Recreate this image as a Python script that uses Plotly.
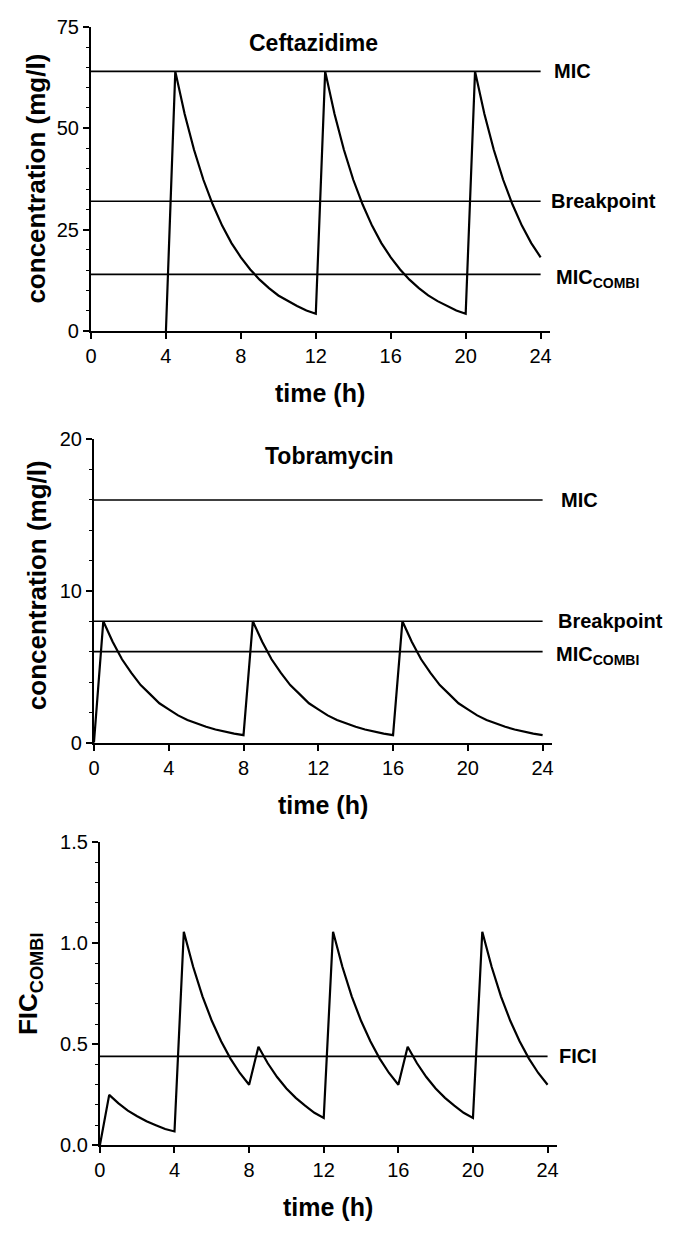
import plotly.graph_objects as go

W, H = 676, 1234
FONT = "Liberation Sans, Arial, Helvetica, sans-serif"

# ---------------- data ----------------
hours = [0, 0.5, 1, 1.5, 2, 2.5, 3, 3.5, 4, 4.5, 5, 5.5, 6, 6.5, 7, 7.5,
         8, 8.5, 9, 9.5, 10, 10.5, 11, 11.5, 12, 12.5, 13, 13.5, 14, 14.5,
         15, 15.5, 16, 16.5, 17, 17.5, 18, 18.5, 19, 19.5, 20, 20.5, 21,
         21.5, 22, 22.5, 23, 23.5, 24]

# ceftazidime starts at the first dose (t = 4 h)
ceft_hours = [4, 4.5, 5, 5.5, 6, 6.5, 7, 7.5,
              8, 8.5, 9, 9.5, 10, 10.5, 11, 11.5, 12, 12.5, 13, 13.5, 14, 14.5,
              15, 15.5, 16, 16.5, 17, 17.5, 18, 18.5, 19, 19.5, 20, 20.5, 21,
              21.5, 22, 22.5, 23, 23.5, 24]
ceftazidime = [0, 64.0, 53.5, 44.7, 37.3, 31.2, 26.0, 21.7,
               18.2, 15.2, 12.7, 10.6, 8.8, 7.4, 6.2, 5.1,
               4.3, 64.0, 53.5, 44.7, 37.3, 31.2, 26.0, 21.7,
               18.2, 15.2, 12.7, 10.6, 8.8, 7.4, 6.2, 5.1,
               4.3, 64.0, 53.5, 44.7, 37.3, 31.2, 26.0, 21.7,
               18.2]

tobramycin = [0,
              8.0, 6.65, 5.5, 4.6, 3.8, 3.2, 2.6, 2.2,
              1.8, 1.5, 1.26, 1.05, 0.87, 0.72, 0.60, 0.50,
              8.0, 6.65, 5.5, 4.6, 3.8, 3.2, 2.6, 2.2,
              1.8, 1.5, 1.26, 1.05, 0.87, 0.72, 0.60, 0.50,
              8.0, 6.65, 5.5, 4.6, 3.8, 3.2, 2.6, 2.2,
              1.8, 1.5, 1.26, 1.05, 0.87, 0.72, 0.60, 0.50]

fic_combi = [0,
             0.25, 0.208, 0.172, 0.144, 0.119, 0.100, 0.081, 0.069,
             1.056, 0.883, 0.737, 0.616, 0.515, 0.429, 0.358, 0.300,
             0.488, 0.406, 0.338, 0.281, 0.235, 0.197, 0.161, 0.136,
             1.056, 0.883, 0.737, 0.616, 0.515, 0.429, 0.358, 0.300,
             0.488, 0.406, 0.338, 0.281, 0.235, 0.197, 0.161, 0.136,
             1.056, 0.883, 0.737, 0.616, 0.515, 0.429, 0.358, 0.300]

line_span = [0, 24]
ceft_levels = {"MIC": 64, "Breakpoint": 32, "MIC<sub>COMBI</sub>": 14}
tobra_levels = {"MIC": 16, "Breakpoint": 8, "MIC<sub>COMBI</sub>": 6}
fic_levels = {"FICI": 0.44}

x_tick_step = 4
ceft_ymax, ceft_major, ceft_minor = 75, 25, 5
tobra_ymax, tobra_major, tobra_minor = 20, 10, 2
fic_ymax, fic_major, fic_minor = 1.5, 0.5, 0.1

# ---------------- layout geometry (pixels) ----------------
panels = [
    # (x0px, x1px, ytop_px, ybot_px)
    (86, 550.5, 16, 326),
    (89, 552.5, 436, 745),
    (95, 557.5, 846, 1155),
]


def xdom(p):
    return [p[0] / W, p[1] / W]


def ydom(p):
    return [1 - p[3] / H, 1 - p[2] / H]


fig = go.Figure()
BLACK = "#000000"

series = [
    (ceft_hours, ceftazidime, ceft_levels, "x", "y"),
    (hours, tobramycin, tobra_levels, "x2", "y2"),
    (hours, fic_combi, fic_levels, "x3", "y3"),
]

for hx, vals, levels, xa, ya in series:
    for name, lv in levels.items():
        fig.add_trace(go.Scatter(x=line_span, y=[lv, lv], mode="lines",
                                 line=dict(color=BLACK, width=1.6),
                                 xaxis=xa, yaxis=ya, showlegend=False,
                                 hoverinfo="skip"))
    fig.add_trace(go.Scatter(x=hx, y=vals, mode="lines",
                             line=dict(color=BLACK, width=2.2),
                             xaxis=xa, yaxis=ya, showlegend=False))

common_x = dict(range=[0, 24.5], tick0=0, dtick=x_tick_step, ticks="outside",
                ticklen=6, tickwidth=1.5, tickcolor=BLACK, showline=True,
                linecolor=BLACK, linewidth=2, showgrid=False, zeroline=False,
                tickfont=dict(family=FONT, size=20, color=BLACK))
common_y = dict(ticks="outside", ticklen=6, tickwidth=1.5, tickcolor=BLACK,
                showline=True, linecolor=BLACK, linewidth=2, showgrid=False,
                zeroline=False, tick0=0,
                tickfont=dict(family=FONT, size=20, color=BLACK))

layout = dict(
    width=W, height=H, margin=dict(l=0, r=0, t=0, b=0),
    paper_bgcolor="white", plot_bgcolor="white", showlegend=False,
    font=dict(family=FONT, color=BLACK),
)
yranges = [(ceft_ymax, ceft_major, ceft_minor, None),
           (tobra_ymax, tobra_major, tobra_minor, None),
           (fic_ymax, fic_major, fic_minor, ".1f")]
for i, p in enumerate(panels):
    sx = "" if i == 0 else str(i + 1)
    layout["xaxis" + sx] = dict(common_x, domain=xdom(p), anchor="y" + sx)
    hi, mj, mn, fmt = yranges[i]
    yd = dict(common_y, domain=ydom(p), anchor="x" + sx, range=[0, hi],
              dtick=mj,
              minor=dict(ticks="outside", ticklen=3, tickwidth=1,
                         tickcolor=BLACK, dtick=mn, tick0=0, showgrid=False))
    if fmt:
        yd["tickformat"] = fmt
    layout["yaxis" + sx] = yd
fig.update_layout(**layout)

ann = []


def add(text, x, y, size, xanchor="center", yanchor="middle", angle=0,
        xref="paper", yref="paper", yshift=0):
    ann.append(dict(text=text, x=x, y=y, xref=xref, yref=yref,
                    xanchor=xanchor, yanchor=yanchor, showarrow=False,
                    textangle=angle, yshift=yshift,
                    font=dict(family=FONT, size=size, color=BLACK)))


# panel titles
add("<b>Ceftazidime</b>", 311 / W, 1 - 33 / H, 23)
add("<b>Tobramycin</b>", 327 / W, 1 - 453 / H, 23)

# axis titles
for i, p in enumerate(panels):
    cx = (p[0] + p[1]) / 2
    add("<b>time (h)</b>", cx / W, 1 - (p[3] + 63) / H, 25)
add("<b>concentration (mg/l)</b>", 30 / W, 1 - 171 / H, 26, angle=-90)
add("<b>concentration (mg/l)</b>", 31 / W, 1 - 585 / H, 26, angle=-90)
add("<b>FIC<sub>COMBI</sub></b>", 24 / W, 1 - 990 / H, 26, angle=-90)

# right-side level labels
label_x = [(553, 550, 555), (560, 557, 555), (558,)]
for (hx, vals, levels, xa, ya), lx in zip(series, label_x):
    for (name, lv), px in zip(levels.items(), lx):
        shift = -4 if "sub" in name else 0
        add("<b>" + name + "</b>", px / W, lv, 20, xanchor="left",
            yref=ya, yshift=shift)

fig.update_layout(annotations=ann)
fig.write_html("out.html")
